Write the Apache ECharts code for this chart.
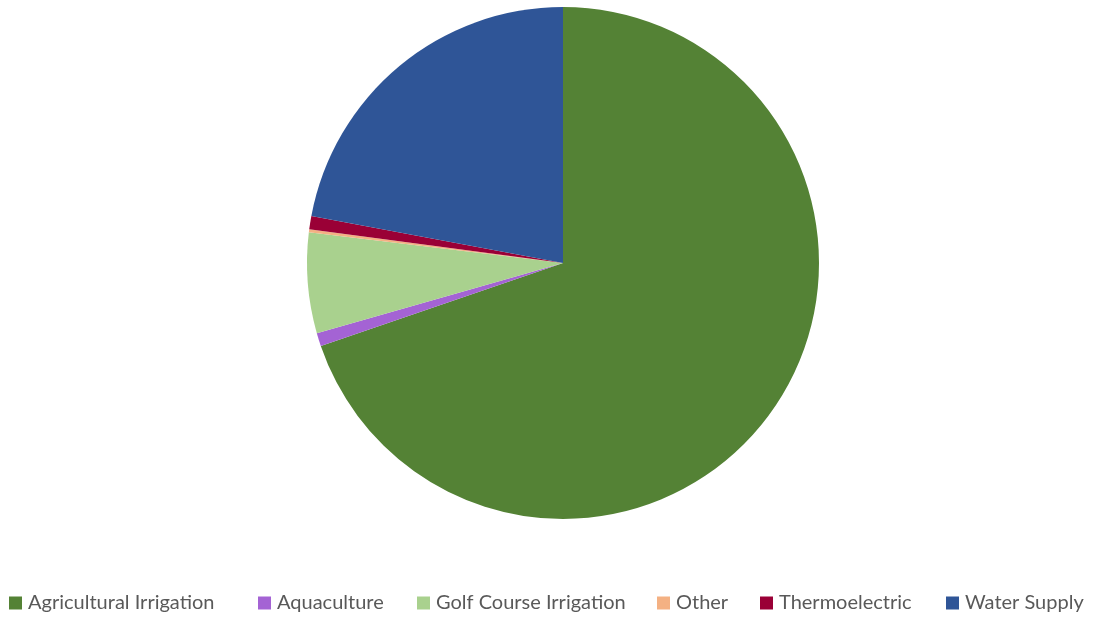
<!DOCTYPE html>
<html><head><meta charset="utf-8">
<script src="https://cdn.jsdelivr.net/npm/echarts@6/dist/echarts.min.js"></script>
<style>html,body{margin:0;padding:0;background:#fff}#c{width:1110px;height:619px}</style>
</head><body><div id="c"></div>
<script>
const categories = ["Agricultural Irrigation","Aquaculture","Golf Course Irrigation","Other","Thermoelectric","Water Supply"];
const values = [69.75, 0.83, 6.33, 0.19, 0.84, 22.06];
const colors = ["#548235","#A463D4","#A9D18E","#F4B183","#9A0036","#2F5597"];
const legendLeft = [9, 258, 417, 657, 760, 946];
const chart = echarts.init(document.getElementById('c'));
chart.setOption({
  animation:false,
  color: colors,
  legend: categories.map((n,i)=>({
    top: 593, left: legendLeft[i],
    padding:0,
    itemWidth:13, itemHeight:13,
    icon:'rect',
    selectedMode:false,
    textStyle:{fontFamily:'Lato', fontSize:20, color:'#595959', padding:[0,0,0,1]},
    data:[n]
  })),
  series:[{
    type:'pie',
    center:[563,263],
    radius:[0,256],
    startAngle:90,
    clockwise:true,
    label:{show:false}, labelLine:{show:false},
    itemStyle:{borderWidth:0},
    emphasis:{disabled:true},
    data: categories.map((n,i)=>({name:n,value:values[i]}))
  }]
});
</script></body></html>
